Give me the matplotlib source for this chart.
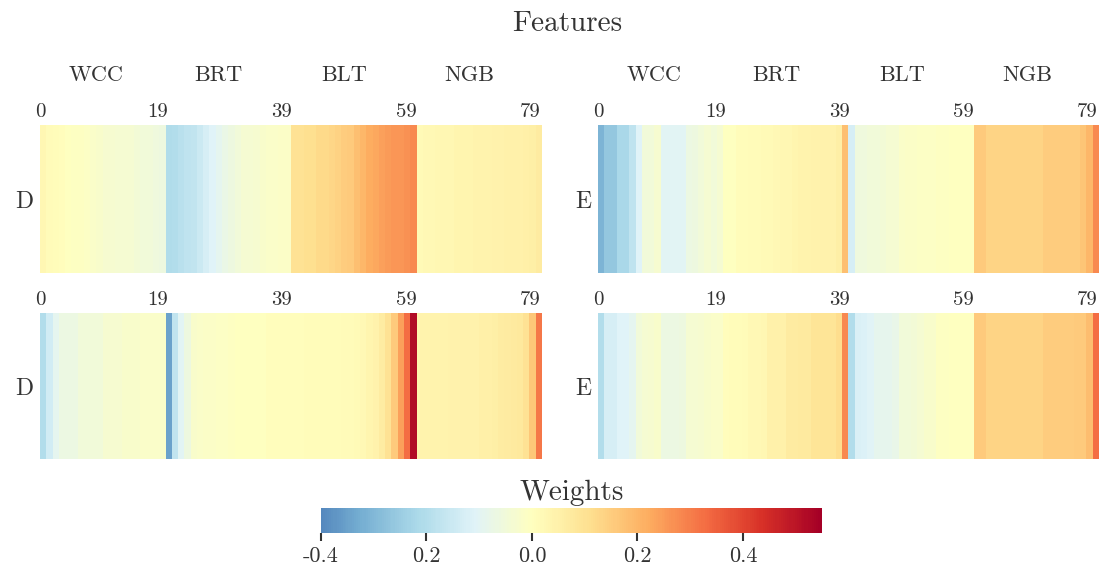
import numpy as np
import matplotlib
matplotlib.use("Agg")
import matplotlib.pyplot as plt
from matplotlib.colors import ListedColormap, Normalize

plt.rcParams["font.family"] = ["cmr10", "DejaVu Serif"]
plt.rcParams["axes.unicode_minus"] = False
TXT = "#333333"

groups = ["WCC", "BRT", "BLT", "NGB"]
col_ticks = [0, 19, 39, 59, 79]
cbar_ticks = [-0.4, -0.2, 0.0, 0.2, 0.4]
cbar_labels = ["-0.4", "0.2", "0.0", "0.2", "0.4"]

# weights per feature column (80 each), four blocks of 20
w_d_top = [0.03, 0.015, 0.01, 0.005, 0.0, -0.005, -0.005, -0.01, -0.02, -0.025,
           -0.03, -0.03, -0.035, -0.04, -0.04, -0.045, -0.05, -0.05, -0.055, -0.06,
           -0.21, -0.2, -0.19, -0.18, -0.17, -0.15, -0.13, -0.11, -0.09, -0.075,
           -0.06, -0.05, -0.04, -0.035, -0.03, -0.025, -0.02, -0.02, -0.015, -0.015,
           0.1, 0.1, 0.11, 0.11, 0.12, 0.12, 0.13, 0.14, 0.15, 0.16,
           0.18, 0.2, 0.22, 0.23, 0.24, 0.25, 0.26, 0.26, 0.27, 0.28,
           0.02, 0.025, 0.025, 0.03, 0.03, 0.03, 0.035, 0.035, 0.035, 0.04,
           0.04, 0.04, 0.045, 0.045, 0.05, 0.05, 0.05, 0.055, 0.06, 0.07]

w_e_top = [-0.31, -0.26, -0.26, -0.22, -0.22, -0.18, -0.11, -0.05, -0.05, -0.03,
           -0.1, -0.1, -0.1, -0.1, -0.065, -0.06, -0.05, -0.04, -0.05, -0.035,
           0.0, 0.0, 0.01, 0.01, 0.015, 0.015, 0.02, 0.02, 0.025, 0.03,
           0.03, 0.035, 0.04, 0.04, 0.045, 0.045, 0.045, 0.045, 0.06, 0.18,
           -0.13, -0.055, -0.055, -0.05, -0.05, -0.045, -0.04, -0.035, -0.02, -0.015,
           -0.015, -0.01, -0.01, -0.01, -0.005, -0.005, 0.0, 0.0, 0.0, 0.0,
           0.16, 0.16, 0.135, 0.135, 0.135, 0.135, 0.135, 0.135, 0.135, 0.135,
           0.135, 0.15, 0.15, 0.15, 0.15, 0.15, 0.15, 0.17, 0.2, 0.28]

w_d_bot = [-0.2, -0.14, -0.095, -0.065, -0.065, -0.065, -0.05, -0.05, -0.05, -0.05,
           -0.03, -0.03, -0.03, -0.025, -0.025, -0.025, -0.02, -0.02, -0.02, -0.02,
           -0.35, -0.17, -0.1, -0.06, -0.025, -0.02, -0.015, -0.015, -0.01, -0.01,
           -0.005, 0.0, 0.0, 0.0, 0.0, 0.0, 0.005, 0.005, 0.005, 0.005,
           0.005, 0.005, 0.01, 0.01, 0.01, 0.01, 0.01, 0.01, 0.015, 0.015,
           0.02, 0.025, 0.035, 0.045, 0.065, 0.1, 0.16, 0.24, 0.33, 0.52,
           0.04, 0.04, 0.04, 0.04, 0.04, 0.045, 0.045, 0.045, 0.045, 0.045,
           0.055, 0.055, 0.06, 0.065, 0.07, 0.075, 0.08, 0.1, 0.165, 0.31]

w_e_bot = [-0.2, -0.13, -0.13, -0.11, -0.11, -0.09, -0.05, -0.04, -0.03, -0.025,
           -0.065, -0.065, -0.065, -0.06, -0.04, -0.035, -0.03, -0.025, -0.02, -0.02,
           0.005, 0.01, 0.01, 0.015, 0.025, 0.025, 0.03, 0.05, 0.05, 0.05,
           0.07, 0.07, 0.075, 0.075, 0.09, 0.09, 0.09, 0.09, 0.115, 0.28,
           -0.2, -0.12, -0.115, -0.105, -0.085, -0.085, -0.085, -0.08, -0.05, -0.05,
           -0.045, -0.04, -0.025, -0.025, -0.005, -0.005, 0.0, 0.0, 0.0, 0.0,
           0.16, 0.16, 0.135, 0.135, 0.135, 0.135, 0.135, 0.135, 0.135, 0.135,
           0.135, 0.15, 0.15, 0.15, 0.15, 0.15, 0.16, 0.16, 0.19, 0.33]

vmin, vmax, center = -0.4, 0.55, 0.0

# centred colormap, trimmed to the [vmin, vmax] range
base = plt.get_cmap("RdYlBu_r")
vrange = max(vmax - center, center - vmin)
full_norm = Normalize(center - vrange, center + vrange)
cmap = ListedColormap(base(np.linspace(full_norm(vmin), full_norm(vmax), 256)))
norm = Normalize(vmin, vmax)

fig = plt.figure(figsize=(10.99, 5.69), dpi=100)

panels = [
    (w_d_top, "D", [0.0364, 0.5202, 0.4568, 0.2601]),
    (w_e_top, "E", [0.5441, 0.5202, 0.4559, 0.2601]),
    (w_d_bot, "D", [0.0364, 0.1933, 0.4568, 0.2566]),
    (w_e_bot, "E", [0.5441, 0.1933, 0.4559, 0.2566]),
]

n = len(w_d_top)
for vals, row, rect in panels:
    ax = fig.add_axes(rect)
    ax.pcolormesh(np.arange(n + 1), [0, 1], np.array([vals]), cmap=cmap, norm=norm)
    ax.set_xlim(0, n)
    ax.set_ylim(0, 1)
    ax.xaxis.tick_top()
    ax.set_xticks([t * 78.1 / 79 for t in col_ticks])
    ax.set_xticklabels([str(t) for t in col_ticks], fontsize=15, color=TXT)
    ax.set_yticks([0.5])
    ax.set_yticklabels([row], fontsize=17, color=TXT)
    ax.tick_params(length=0, pad=3)
    ax.tick_params(axis="y", pad=5)
    for s in ax.spines.values():
        s.set_visible(False)

# feature group names above the top row
grp_x = [9.0, 28.4, 48.5, 68.5]
for rect_left in (0.0364, 0.5441):
    for g, gx in zip(groups, grp_x):
        fx = rect_left + gx / n * 0.4565
        fig.text(fx, 1 - 75 / 569, g, ha="center", va="center", fontsize=16, color=TXT)

fig.text(0.516, 1 - 24 / 569, "Features", ha="center", va="center", fontsize=21, color=TXT)

cax = fig.add_axes([0.2921, 0.0633, 0.4559, 0.0439])
sm = plt.cm.ScalarMappable(cmap=cmap, norm=norm)
cb = fig.colorbar(sm, cax=cax, orientation="horizontal")
cb.outline.set_visible(False)
cb.set_ticks(cbar_ticks)
cb.set_ticklabels(cbar_labels)
cax.tick_params(labelsize=16, colors=TXT, length=6, width=1.5, pad=4)
cax.set_title("Weights", fontsize=21, color=TXT, pad=6)

fig.savefig("out.png", dpi=100, facecolor="white")
